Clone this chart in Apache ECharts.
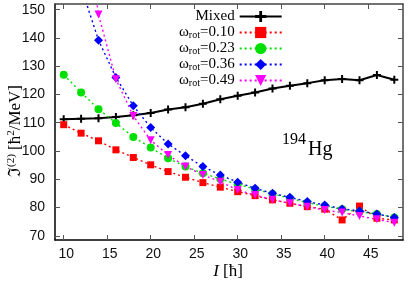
<!DOCTYPE html>
<html><head><meta charset="utf-8">
<script src="https://cdn.jsdelivr.net/npm/echarts@6/dist/echarts.min.js"></script>
<style>html,body{margin:0;padding:0;background:#fff}#c{width:409px;height:283px}</style>
</head><body><div id="c"></div>
<script>
// Spin values (I in hbar)
const spinsFrom10 = [10,12,14,16,18,20,22,24,26,28,30,32,34,36,38,40,42,44,46,48];
const spinsFrom12 = [12,14,16,18,20,22,24,26,28,30,32,34,36,38,40,42,44,46,48];
// Mixed
const mixed = [111.2,111.4,111.6,112.0,112.6,113.4,114.7,115.5,116.7,118.3,119.5,120.7,122.1,123.1,124.0,125.0,125.5,125.0,126.9,125.2];
// omega_rot = 0.10
const w010 = [109.3,106.3,103.6,100.4,97.7,95.1,92.7,90.7,88.8,87.2,85.6,84.2,82.7,81.5,80.3,79.4,75.6,80.5,76.2,75.6];
// omega_rot = 0.23
const w023 = [127.0,120.7,114.8,109.9,104.9,101.2,97.4,94.5,92.1,90.1,88.2,86.5,84.8,83.3,81.7,80.5,79.4,78.5,77.7,76.5];
// omega_rot = 0.36 (from I=12)
const w036 = [158,139.2,126.0,116.0,108.3,102.5,98.3,94.5,91.5,88.9,86.8,85.0,83.6,82.1,80.9,79.5,78.8,77.7,76.5];
// omega_rot = 0.49 (from I=12)
const w049 = [190,148.3,125.4,112.4,103.8,98.6,94.5,91.5,89.1,86.2,84.4,82.7,81.5,80.3,79.1,78.2,77.0,75.8,74.6];
const omegaLabels = ['0.10','0.23','0.36','0.49'];
const xTicks = [10,15,20,25,30,35,40,45];
const yTicks = [70,80,90,100,110,120,130,140,150];

const pair = (xs, ys) => xs.map((x,i)=>[x, ys[i]]);
const SERIF = '"Liberation Serif","DejaVu Serif",serif';
const SANS = '"Liberation Sans",Arial,sans-serif';

const chart = echarts.init(document.getElementById('c'), null, {renderer:'canvas'});
const xRange = {min:9, max:49};
const yRange = {min:68.5, max:152};

function dotted(color, symbol, size, rot){
  return {
    type:'line', symbol, symbolSize:size, symbolRotate: rot||0,
    itemStyle:{color},
    lineStyle:{color, width:1.4, type:[2,3]},
    z:3
  };
}
const series = [
  {name:'Mixed', type:'line', data:pair(spinsFrom10,mixed),
   symbol:'path://M3,0H5V3H8V5H5V8H3V5H0V3H3Z', symbolSize:8,
   itemStyle:{color:'#000'}, lineStyle:{color:'#000', width:2}, z:2},
  Object.assign(dotted('#ff0000','rect',7), {name:'w0', data:pair(spinsFrom10,w010)}),
  Object.assign(dotted('#00e000','circle',8), {name:'w1', data:pair(spinsFrom10,w023)}),
  Object.assign(dotted('#0000ff','diamond',9), {name:'w2', data:pair(spinsFrom12,w036)}),
  Object.assign(dotted('#ff00ff','triangle',8,180), {name:'w3', data:pair(spinsFrom12,w049)})
];
series.forEach(s=>{ s.clip = true; s.animation = false; });

const tickStyle = {show:true, inside:true, length:5, lineStyle:{color:'#555', width:1}};
const rt = {fontFamily:SERIF, fontSize:15, color:'#000', align:'right', lineHeight:15};
chart.setOption({
  animation:false,
  backgroundColor:'#fff',
  grid:{left:55, right:6, top:4, bottom:43},
  legend:{
    orient:'vertical', left:179, top:9, padding:0, itemGap:1,
    itemWidth:42, itemHeight:14, align:'right',
    data:['Mixed','w0','w1','w2','w3'],
    formatter: n => n==='Mixed' ? '{t|Mixed}' : '{t|ω}{s|rot}{t|=' + omegaLabels[+n[1]] + '}',
    textStyle:{width:58, align:'right', rich:{
      t:rt,
      s:{fontFamily:SERIF, fontSize:10, color:'#000', align:'right', verticalAlign:'bottom', lineHeight:15, padding:[5,0,0,0]}
    }}
  },
  xAxis:[
    Object.assign({type:'value', position:'bottom',
      axisLine:{show:true, onZero:false, lineStyle:{color:'#000', width:1.5}},
      axisTick:Object.assign({customValues:xTicks}, tickStyle),
      axisLabel:{customValues:xTicks, color:'#111', fontFamily:SANS, fontSize:14, margin:7, padding:[0,0,0,5]},
      splitLine:{show:false}}, xRange),
    Object.assign({type:'value', position:'top',
      axisLine:{show:true, onZero:false, lineStyle:{color:'#444', width:1.5}},
      axisTick:Object.assign({customValues:xTicks}, tickStyle),
      axisLabel:{show:false}, splitLine:{show:false}}, xRange)
  ],
  yAxis:[
    Object.assign({type:'value', position:'left',
      axisLine:{show:true, onZero:false, lineStyle:{color:'#000', width:1.5}},
      axisTick:Object.assign({customValues:yTicks}, tickStyle),
      axisLabel:{customValues:yTicks, color:'#111', fontFamily:SANS, fontSize:14, margin:10, padding:[5,0,0,0]},
      splitLine:{show:false}}, yRange),
    Object.assign({type:'value', position:'right',
      axisLine:{show:true, onZero:false, lineStyle:{color:'#444', width:1.5}},
      axisTick:Object.assign({customValues:yTicks}, tickStyle),
      axisLabel:{show:false}, splitLine:{show:false}}, yRange)
  ],
  series: series,
  graphic:[
    {type:'text', x:16, y:131, rotation:Math.PI/2, z:10,
     style:{text:'{a|ℑ}{s|(2)}{a| [ħ}{s|2}{a|/MeV]}', align:'center', verticalAlign:'middle',
       rich:{a:{fontFamily:SERIF, fontSize:17, color:'#000', lineHeight:20},
             s:{fontFamily:SERIF, fontSize:11, color:'#000', verticalAlign:'top', lineHeight:20}}}},
    {type:'text', x:228, y:272, z:10,
     style:{text:'{i|I}{a| [ħ]}', align:'center', verticalAlign:'middle',
       rich:{i:{fontFamily:SERIF, fontSize:17, fontStyle:'italic', color:'#000'},
             a:{fontFamily:SERIF, fontSize:17, color:'#000'}}}},
    {type:'text', x:282, y:140, z:10,
     style:{text:'194', fontFamily:SERIF, fontSize:16, fill:'#000', align:'left', verticalAlign:'middle'}},
    {type:'text', x:308, y:150, z:10,
     style:{text:'Hg', fontFamily:SERIF, fontSize:20, fill:'#000', align:'left', verticalAlign:'middle'}}
  ]
});
</script>
</body></html>
